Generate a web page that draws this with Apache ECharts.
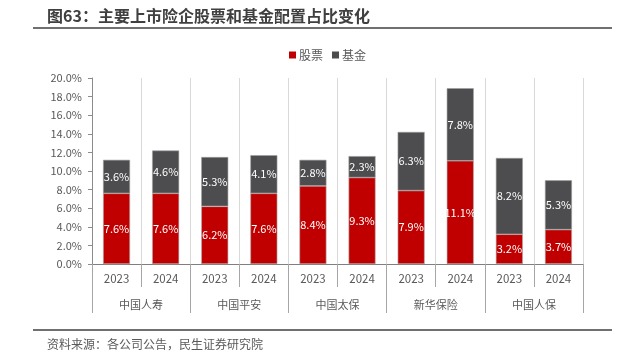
<!DOCTYPE html>
<html>
<head>
<meta charset="utf-8">
<script src="https://cdn.jsdelivr.net/npm/echarts@6/dist/echarts.min.js"></script>
<style>
html,body{margin:0;padding:0;background:#fff;}
#main{width:617px;height:355px;}
</style>
</head>
<body>
<div id="main"></div>
<script>
const years = ['2023','2024','2023','2024','2023','2024','2023','2024','2023','2024'];
const companies = ['中国人寿','中国平安','中国太保','新华保险','中国人保'];
const stockShare = [7.6, 7.6, 6.2, 7.6, 8.4, 9.3, 7.9, 11.1, 3.2, 3.7];
const fundShare  = [3.6, 4.6, 5.3, 4.1, 2.8, 2.3, 6.3, 7.8, 8.2, 5.3];
const seriesNames = ['股票','基金'];
const yTicks = [0,2,4,6,8,10,12,14,16,18,20];

const FONT = '"Noto Sans CJK SC", "Noto Sans", sans-serif';
const chart = echarts.init(document.getElementById('main'), null, {renderer:'canvas'});

const barLabel = {
  show: true, position: 'inside', color: '#ffffff', fontSize: 11, fontFamily: FONT,
  formatter: p => p.value.toFixed(1) + '%'
};

chart.setOption({
  backgroundColor: '#ffffff',
  animation: false,
  textStyle: { fontFamily: FONT },
  title: [{
    text: '图63：主要上市险企股票和基金配置占比变化',
    left: 42, top: 3,
    textStyle: { fontSize: 16, fontWeight: 'bold', color: '#404040', fontFamily: FONT }
  }, {
    text: '资料来源：各公司公告，民生证券研究院',
    left: 42, top: 333,
    textStyle: { fontSize: 12, fontWeight: 'normal', color: '#595959', fontFamily: FONT }
  }],
  graphic: [
    { type: 'line', shape: { x1: 33, y1: 28, x2: 612, y2: 28 }, style: { stroke: '#404040', lineWidth: 1.5 } },
    { type: 'line', shape: { x1: 33, y1: 330, x2: 612, y2: 330 }, style: { stroke: '#404040', lineWidth: 1.5 } }
  ],
  legend: {
    data: seriesNames,
    top: 44, left: 284,
    icon: 'rect', itemWidth: 7, itemHeight: 7, itemGap: 9,
    itemStyle: { borderWidth: 0 },
    textStyle: { fontSize: 12, color: '#595959', fontFamily: FONT, padding: [0,0,0,-2] }
  },
  grid: { left: 92, right: 34, top: 78, bottom: 91, containLabel: false },
  xAxis: [{
    type: 'category',
    data: years,
    position: 'bottom',
    axisLine: { show: true, lineStyle: { color: '#7f7f7f', width: 1 } },
    axisTick: { show: true, length: 23, interval: 0, lineStyle: { color: '#a6a6a6', width: 1 } },
    axisLabel: { interval: 0, margin: 9, fontSize: 11.5, color: '#595959', fontFamily: FONT },
    splitLine: { show: true, interval: 0, lineStyle: { color: '#d9d9d9', width: 1 } }
  }, {
    type: 'category',
    data: companies,
    position: 'bottom',
    offset: 0,
    axisLine: { show: false },
    axisTick: { show: true, length: 49, interval: 0, lineStyle: { color: '#a6a6a6', width: 1 } },
    axisLabel: { interval: 0, margin: 35, fontSize: 11, color: '#595959', fontFamily: FONT },
    splitLine: { show: false }
  }],
  yAxis: {
    type: 'value',
    min: yTicks[0], max: yTicks[yTicks.length-1], interval: 2,
    axisLine: { show: true, lineStyle: { color: '#8c8c8c', width: 1 } },
    axisTick: { show: true, length: 4, lineStyle: { color: '#8c8c8c' } },
    axisLabel: { margin: 10, fontSize: 11, color: '#595959', fontFamily: FONT,
      formatter: v => v.toFixed(1) + '%' },
    splitLine: { show: false }
  },
  series: [{
    name: seriesNames[0], type: 'bar', stack: 'total', xAxisIndex: 0,
    data: stockShare, barWidth: '55%',
    itemStyle: { color: '#c00000', borderColor: '#b0b0b0', borderWidth: 0.6 },
    label: barLabel
  }, {
    name: seriesNames[1], type: 'bar', stack: 'total', xAxisIndex: 0,
    data: fundShare, barWidth: '55%',
    itemStyle: { color: '#4d4d4f', borderColor: '#a0a0a0', borderWidth: 0.6 },
    label: barLabel
  }]
});
</script>
</body>
</html>
